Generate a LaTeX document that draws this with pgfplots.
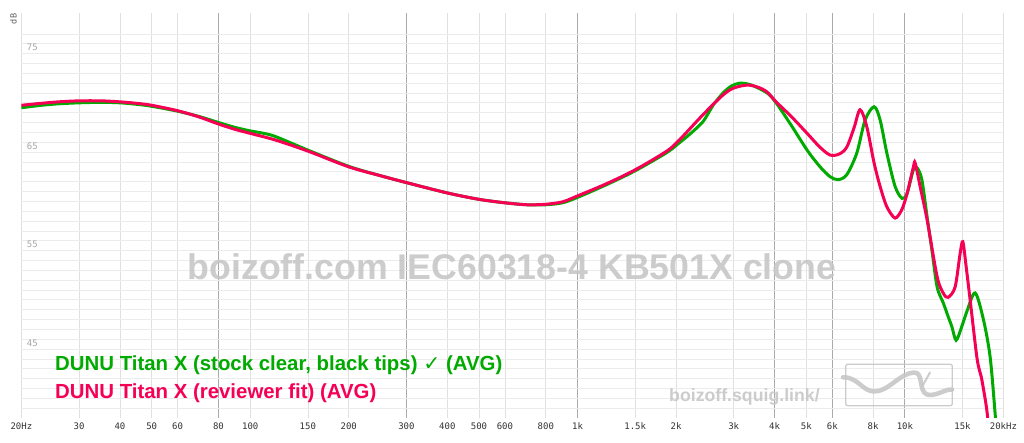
\documentclass[border=0pt]{standalone}
\usepackage{fontspec}
\setmainfont{Liberation Sans}
\newfontfamily\monof{DejaVu Sans Mono}
\newfontfamily\djv{DejaVu Sans}
\usepackage{pgfplots}
\pgfplotsset{compat=1.18}
\usepackage{pgfplotstable}
\definecolor{sgreen}{RGB}{0,170,0}
\definecolor{spink}{RGB}{245,0,85}
\definecolor{hgrid}{RGB}{236,236,236}
\definecolor{vgrid}{RGB}{224,224,224}
\definecolor{vmaj}{RGB}{170,170,170}
\definecolor{wm}{RGB}{198,198,198}

\pgfplotstableread{
f db
20 69.5
23 69.75
26 69.9
30 70.0
35 70.05
40 70.0
45 69.85
50 69.65
60 69.15
70 68.6
80 68.0
90 67.5
100 67.15
110 66.9
120 66.55
150 65.2
200 63.55
250 62.6
300 61.9
400 60.85
500 60.2
600 59.85
700 59.65
800 59.65
900 59.85
1000 60.4
1228 61.7
1500 63.1
1874 64.95
2056 66.0
2200 66.8
2418 68.1
2600 69.8
2784 71.0
2950 71.7
3138 72.0
3400 71.8
3794 71.0
4042 70.0
4500 67.7
5027 65.2
5508 63.5
5909 62.5
6252 62.2
6644 62.7
7130 64.9
7560 68.25
8052 69.6
8402 68.25
8808 64.9
9337 61.5
9808 60.3
10157 60.8
10618 63.2
10898 63.4
11266 62.2
11694 58.4
12086 55.1
12546 51.3
13114 49.65
13556 48.3
13910 47.3
14342 45.9
14928 47.3
15460 48.8
16390 50.7
17376 48.0
18216 44.2
18864 38.5
19100 36
}\stock

\pgfplotstableread{
f db
20 69.75
23 69.95
26 70.1
30 70.2
35 70.2
40 70.1
45 69.95
50 69.75
60 69.2
70 68.55
80 67.85
90 67.3
100 66.9
120 66.2
150 65.1
200 63.5
250 62.6
300 61.9
400 60.85
500 60.2
600 59.85
700 59.65
800 59.7
900 59.95
1000 60.55
1228 61.8
1500 63.2
1874 65.1
2056 66.3
2418 68.8
2784 70.8
3000 71.5
3297 71.8
3550 71.6
3794 71.1
4042 70.1
4500 68.6
5027 66.9
5500 65.5
5909 64.7
6300 64.8
6644 65.5
7000 67.5
7297 69.3
7648 67.6
8052 63.9
8402 61.5
8808 59.45
9337 58.3
9800 59.2
10157 60.8
10618 63.5
10746 63.9
11132 61.5
11694 58.1
12546 52.35
13114 50.65
13556 50.25
14238 51.3
14750 54.7
15032 55.9
15384 53.4
15824 50.0
16588 44.2
16976 42.6
17180 41.9
17800 38.8
18100 36
}\fit

\begin{document}
\begin{tikzpicture}
\useasboundingbox (0,0) rectangle (1024bp,443bp);
\fill[white] (0,0) rectangle (1024bp,443bp);
% y label
\node[rotate=90, text=gray!75!black, font=\monof\fontsize{8.5bp}{9bp}\selectfont, inner sep=0pt] at (13.5bp,424bp) {dB};
\begin{axis}[
  at={(21.4bp,25bp)}, anchor=south west,
  width=982bp, height=405bp, scale only axis,
  xmode=log, log basis x=10,
  xmin=20, xmax=20000, ymin=38, ymax=79.12,
  axis line style={draw=none},
  tick style={draw=none},
  major tick length=0pt, minor tick length=0pt,
  xtick={80,300,1000,4000,6000,10000},
  xticklabels={80,300,1k,4k,6k,10k},
  extra x ticks={20,30,40,50,60,100,150,200,400,500,600,800,1500,2000,3000,5000,8000,15000,20000},
  extra x tick labels={20Hz,30,40,50,60,100,150,200,400,500,600,800,1.5k,2k,3k,5k,8k,15k,20kHz},
  extra x tick style={grid=major, major grid style={vgrid, line width=0.7bp}, tick label style={text=gray!65}},
  ytick=\empty,
  extra y ticks={39,40,...,77},
  extra y tick labels={,,,,,,45,,,,,,,,,,55,,,,,,,,,,65,,,,,,,,,,75,,},
  extra y tick style={grid=major, major grid style={hgrid, line width=0.7bp},
     tick label style={anchor=base west, xshift=2bp, yshift=2.6bp, text=gray!70}},
  xmajorgrids,
  major grid style={vmaj, line width=0.8bp},
  x tick label style={font=\monof\fontsize{9bp}{10bp}\selectfont, text=gray!40!black, yshift=-1bp},
  y tick label style={font=\monof\fontsize{9bp}{10bp}\selectfont},
  clip=true,
]
\addplot[sgreen, line width=3bp, smooth, tension=0.5] table[x=f, y=db] {\stock};
\addplot[spink, line width=3bp, smooth, tension=0.5] table[x=f, y=db] {\fit};
\end{axis}
% watermarks (over grid, semi-transparent)
\begin{scope}[opacity=0.88]
\node[anchor=base, text=wm, font=\bfseries\fontsize{35.7bp}{40bp}\selectfont, inner sep=0pt] at (512bp,163bp) {boizoff.com IEC60318-4 KB501X clone};
\node[anchor=base west, text=wm, font=\bfseries\fontsize{17.7bp}{20bp}\selectfont, inner sep=0pt] at (669bp,41.3bp) {boizoff.squig.link/};
\draw[wm, line width=1.3bp, rounded corners=2bp] (845.7bp,37.3bp) rectangle (952.3bp,78.7bp);
\draw[wm, line width=4.5bp, line cap=round, line join=round]
  (843bp,65.7bp) .. controls (858bp,66bp) and (862bp,52bp) .. (874bp,51.5bp)
  .. controls (888bp,51bp) and (900bp,70bp) .. (914bp,70.5bp)
  .. controls (924bp,71bp) and (918bp,52bp) .. (927bp,48.5bp)
  .. controls (935bp,46bp) and (945bp,54bp) .. (952bp,53.5bp);
\draw[wm, line width=2bp, line cap=round] (923bp,58bp) -- (930bp,70.5bp);
\end{scope}
% legend
\node[anchor=base west, text=sgreen, font=\bfseries\fontsize{20.4bp}{24bp}\selectfont, inner sep=0pt] at (55bp,72.3bp) {DUNU Titan X (stock clear, black tips) {\djv\bfseries ✓} (AVG)};
\node[anchor=base west, text=spink, font=\bfseries\fontsize{20.4bp}{24bp}\selectfont, inner sep=0pt] at (55bp,44bp) {DUNU Titan X (reviewer fit) (AVG)};
\end{tikzpicture}
\end{document}
